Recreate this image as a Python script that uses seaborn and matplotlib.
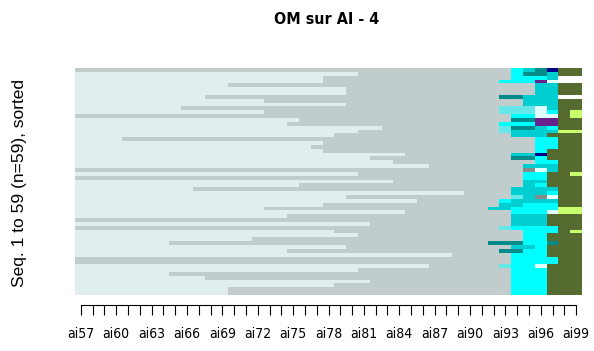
import numpy as np
import pandas as pd
import seaborn as sns
import matplotlib.pyplot as plt
from matplotlib import font_manager
from matplotlib.colors import ListedColormap

# positions of the sequences (x axis)
positions = ['ai%d' % y for y in range(57, 100)]

# state alphabet and colours
states = ['L', 'G', 'M', 'C', 'D', 'T', 'S', 'N', 'P', 'W', 'O', 'Y']
state_colors = ['#E0EEEE', '#C1CDCD', '#66E8E8', '#00FFFF', '#00CED1', '#008B8B',
                '#838B8B', '#00008B', '#68228B', '#E0FFFF', '#556B2F', '#CAFF70']

# each sequence (top to bottom) = light spell, then grey spell, then tail ('.' = missing)
light_len = [0, 24, 21, 21, 13, 23, 23, 11, 16, 23, 9, 16, 0, 19, 18,
             26, 24, 22, 4, 21, 20, 21, 28, 25, 27, 30, 0, 24, 0, 27,
             19, 10, 33, 23, 29, 21, 16, 28, 18, 0, 25, 0, 22, 24, 15,
             8, 23, 18, 32, 0, 0, 30, 24, 8, 11, 25, 22, 13, 13]
tails = ['CDTNOO', 'CTTDOO', 'CCCD..', 'CCCPW..', 'DDOO', 'DDOO', 'DDOO', 'TTDDD..',
         'DDDOO', 'DDDOO', 'MMMWDOO', 'MMMWCOY', 'CCWWOY', 'TTPPOO', 'CCCPPOO',
         'MTTDCOO', 'MDDDDYY', 'DDDOOO', 'CCOO', 'CCOO', 'CCOO', 'COOO', 'DDNOOO',
         'TTCOOO', 'CCOO', 'DDDOO', 'SWDOO', 'CCOOY', 'CCOOO',
         'DDOOO', 'DCOOO', 'DDDDOO', 'DDDCOO', 'MDSWOO', 'CDDDDOO', 'DDCCCOO',
         'DDCCCCYY', 'CCCWYY', 'DDDOOO', 'DDDOOO', 'DDDOOO', 'MCCCCOO', 'CCCOY',
         'CCOOO', 'CCOOO', 'TTTCCTOO', 'DDCOOO', 'TTCCOOO', 'CCCOOO', 'CCCCOO',
         'CCCCOO', 'MCCWOOO', 'CCCOOO', 'CCCOOO', 'CCCOOO', 'CCCOOO', 'CCCOOO',
         'CCCOOO', 'CCCOOO']

rows = []
for l, t in zip(light_len, tails):
    s = 'L' * l + 'G' * (len(positions) - l - len(t)) + t
    rows.append([states.index(c) if c != '.' else np.nan for c in s])
df = pd.DataFrame(rows, columns=positions)

# narrow font if one is installed
fonts = font_manager.fontManager.ttflist
if any(f.name == 'Liberation Sans Narrow' for f in fonts):
    narrow = dict(family='Liberation Sans Narrow')
elif any(f.name == 'DejaVu Sans' and f.stretch == 'condensed' for f in fonts):
    narrow = dict(family='DejaVu Sans', fontstretch='condensed')
else:
    narrow = dict(family='Liberation Sans')

fig = plt.figure(figsize=(5.94, 3.51), dpi=100)
ax = fig.add_axes([75 / 594, 1 - 295 / 351, 507 / 594, 227 / 351])
sns.heatmap(df, cmap=ListedColormap(state_colors), vmin=-0.5, vmax=len(states) - 0.5,
            cbar=False, xticklabels=False, yticklabels=False, ax=ax)

# R-style detached x axis
ax.spines['bottom'].set_visible(True)
ax.spines['bottom'].set_position(('outward', 7.2))
ax.spines['bottom'].set_bounds(0.5, len(positions) - 0.5)
ax.spines['bottom'].set_linewidth(0.8)
ax.set_xticks(np.arange(len(positions)) + 0.5)
ax.set_xticklabels([p if i % 3 == 0 else '' for i, p in enumerate(positions)],
                   rotation=0, fontsize=10, **narrow)
ax.tick_params(axis='x', length=7.5, width=0.8, direction='out', pad=8, bottom=True)
ax.set_yticks([])
ax.set_xlabel('')
ax.set_ylabel('')

fig.text(327 / 594, 1 - 19 / 351, 'OM sur AI - 4', ha='center', va='center',
         fontsize=11.5, fontweight='bold', **narrow)
fig.text(20 / 594, 1 - 183 / 351, 'Seq. 1 to 59 (n=59), sorted', ha='center', va='center',
         rotation=90, fontsize=12.5, family=['Liberation Sans', 'DejaVu Sans'])

fig.savefig('out.png', dpi=100)
